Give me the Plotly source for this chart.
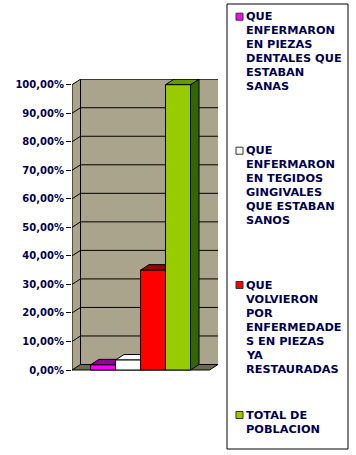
import plotly.graph_objects as go

# ---- data ----
categories = ["QUE ENFERMARON EN PIEZAS DENTALES QUE ESTABAN SANAS",
              "QUE ENFERMARON EN TEGIDOS GINGIVALES QUE ESTABAN SANOS",
              "QUE VOLVIERON POR ENFERMEDADES EN PIEZAS YA RESTAURADAS",
              "TOTAL DE POBLACION"]
values = [1.8, 3.5, 35.0, 100.0]
legend_lines = [
    ["QUE", "ENFERMARON", "EN PIEZAS", "DENTALES QUE", "ESTABAN", "SANAS"],
    ["QUE", "ENFERMARON", "EN TEGIDOS", "GINGIVALES", "QUE ESTABAN", "SANOS"],
    ["QUE", "VOLVIERON", "POR", "ENFERMEDADE", "S EN PIEZAS", "YA", "RESTAURADAS"],
    ["TOTAL DE", "POBLACION"],
]
tick_vals = [0, 10, 20, 30, 40, 50, 60, 70, 80, 90, 100]
tick_text = ["0,00%", "10,00%", "20,00%", "30,00%", "40,00%", "50,00%",
             "60,00%", "70,00%", "80,00%", "90,00%", "100,00%"]

# ---- styles ----
front_colors = ["#FF00FF", "#FFFFFF", "#FF0000", "#99CC00"]
top_colors = ["#990099", "#FFFFFF", "#990000", "#669900"]
side_colors = ["#800080", "#C0C0C0", "#800000", "#336600"]
wall_color = "#A9A48B"
floor_color = "#6E6B4A"
text_color = "#000050"
FONT = "DejaVu Sans, Verdana, sans-serif"

W, H = 356, 455
ML, MR, MT, MB = 72, 138, 79, 81
X0, XR = -1.24, 4.6          # x-axis range
Y0, YT = -1.4, 102.0         # y-axis range
DX, DY = 0.34, 1.93          # 3-D depth offset in data units

def P(pts):
    return "M " + " L ".join(f"{x},{y}" for x, y in pts) + " Z"

def L(pts):
    return "M " + " L ".join(f"{x},{y}" for x, y in pts)

shapes = []
# side wall, back wall, floor
shapes.append(dict(type="path", xref="x", yref="y", layer="below",
                   path=P([(X0, 0), (X0, 100), (X0 + DX, 100 + DY), (X0 + DX, DY)]),
                   fillcolor=wall_color, line=dict(width=0)))
shapes.append(dict(type="path", xref="x", yref="y", layer="below",
                   path=P([(X0 + DX, DY), (X0 + DX, 100 + DY), (XR, 100 + DY), (XR, DY)]),
                   fillcolor=wall_color, line=dict(width=0)))
shapes.append(dict(type="path", xref="x", yref="y", layer="below",
                   path=P([(X0, 0), (X0 + DX, DY), (XR, DY), (XR - DX, 0)]),
                   fillcolor=floor_color, line=dict(color="black", width=1)))
# gridlines
for v in tick_vals[1:]:
    shapes.append(dict(type="path", xref="x", yref="y", layer="below",
                       path=L([(X0, v), (X0 + DX, v + DY), (XR, v + DY)]),
                       line=dict(color="black", width=1)))
# wall corner edge
shapes.append(dict(type="line", xref="x", yref="y", layer="below",
                   x0=X0 + DX, x1=X0 + DX, y0=DY, y1=100 + DY,
                   line=dict(color="black", width=1)))
# bar tops and sides (below the bar fronts)
for i, v in enumerate(values):
    a, b = i - 0.5, i + 0.5
    shapes.append(dict(type="path", xref="x", yref="y", layer="below",
                       path=P([(b, 0), (b, v), (b + DX, v + DY), (b + DX, DY)]),
                       fillcolor=side_colors[i], line=dict(color="black", width=1)))
    shapes.append(dict(type="path", xref="x", yref="y", layer="below",
                       path=P([(a, v), (b, v), (b + DX, v + DY), (a + DX, v + DY)]),
                       fillcolor=top_colors[i], line=dict(color="black", width=1)))
# front axis line
shapes.append(dict(type="line", xref="x", yref="y", layer="above",
                   x0=X0, x1=X0, y0=0, y1=100, line=dict(color="black", width=1)))

# legend (drawn in pixel space via paper coords)
def XP(px):
    return (px - ML) / (W - ML - MR)

def YP(py):
    return (H - MB - py) / (H - MT - MB)

shapes.append(dict(type="rect", xref="paper", yref="paper", layer="above",
                   x0=XP(227), x1=XP(348), y0=YP(449), y1=YP(4),
                   fillcolor="rgba(0,0,0,0)", line=dict(color="black", width=1)))
annotations = []
entry_tops = [16.7, 150.7, 285.0, 415.0]
for k, lines in enumerate(legend_lines):
    yc = entry_tops[k]
    shapes.append(dict(type="rect", xref="paper", yref="paper", layer="above",
                       x0=XP(236), x1=XP(243), y0=YP(yc + 3.5), y1=YP(yc - 3.5),
                       fillcolor=front_colors[k], line=dict(color="#333333", width=1)))
    for j, t in enumerate(lines):
        annotations.append(dict(xref="paper", yref="paper", x=XP(244), y=YP(yc + 14 * j),
                                xanchor="left", yanchor="middle", showarrow=False,
                                text=t, font=dict(family=FONT, size=11.3,
                                                  color=text_color, weight="bold")))

fig = go.Figure()
fig.add_trace(go.Bar(x=list(range(len(values))), y=values, width=1,
                     marker=dict(color=front_colors, line=dict(color="black", width=1)),
                     hovertext=categories, showlegend=False))

fig.update_layout(
    width=W, height=H,
    margin=dict(l=ML, r=MR, t=MT, b=MB, pad=0),
    paper_bgcolor="white", plot_bgcolor="rgba(0,0,0,0)",
    showlegend=False,
    shapes=shapes, annotations=annotations,
    xaxis=dict(range=[X0, XR], visible=False, fixedrange=True),
    yaxis=dict(range=[Y0, YT], showgrid=False, zeroline=False, showline=False,
               tickvals=tick_vals, ticktext=tick_text, ticks="outside", ticklen=5,
               tickcolor="black", tickwidth=1,
               tickfont=dict(family=FONT, size=10, color=text_color, weight="bold"),
               fixedrange=True),
)
fig.write_html("out.html")
